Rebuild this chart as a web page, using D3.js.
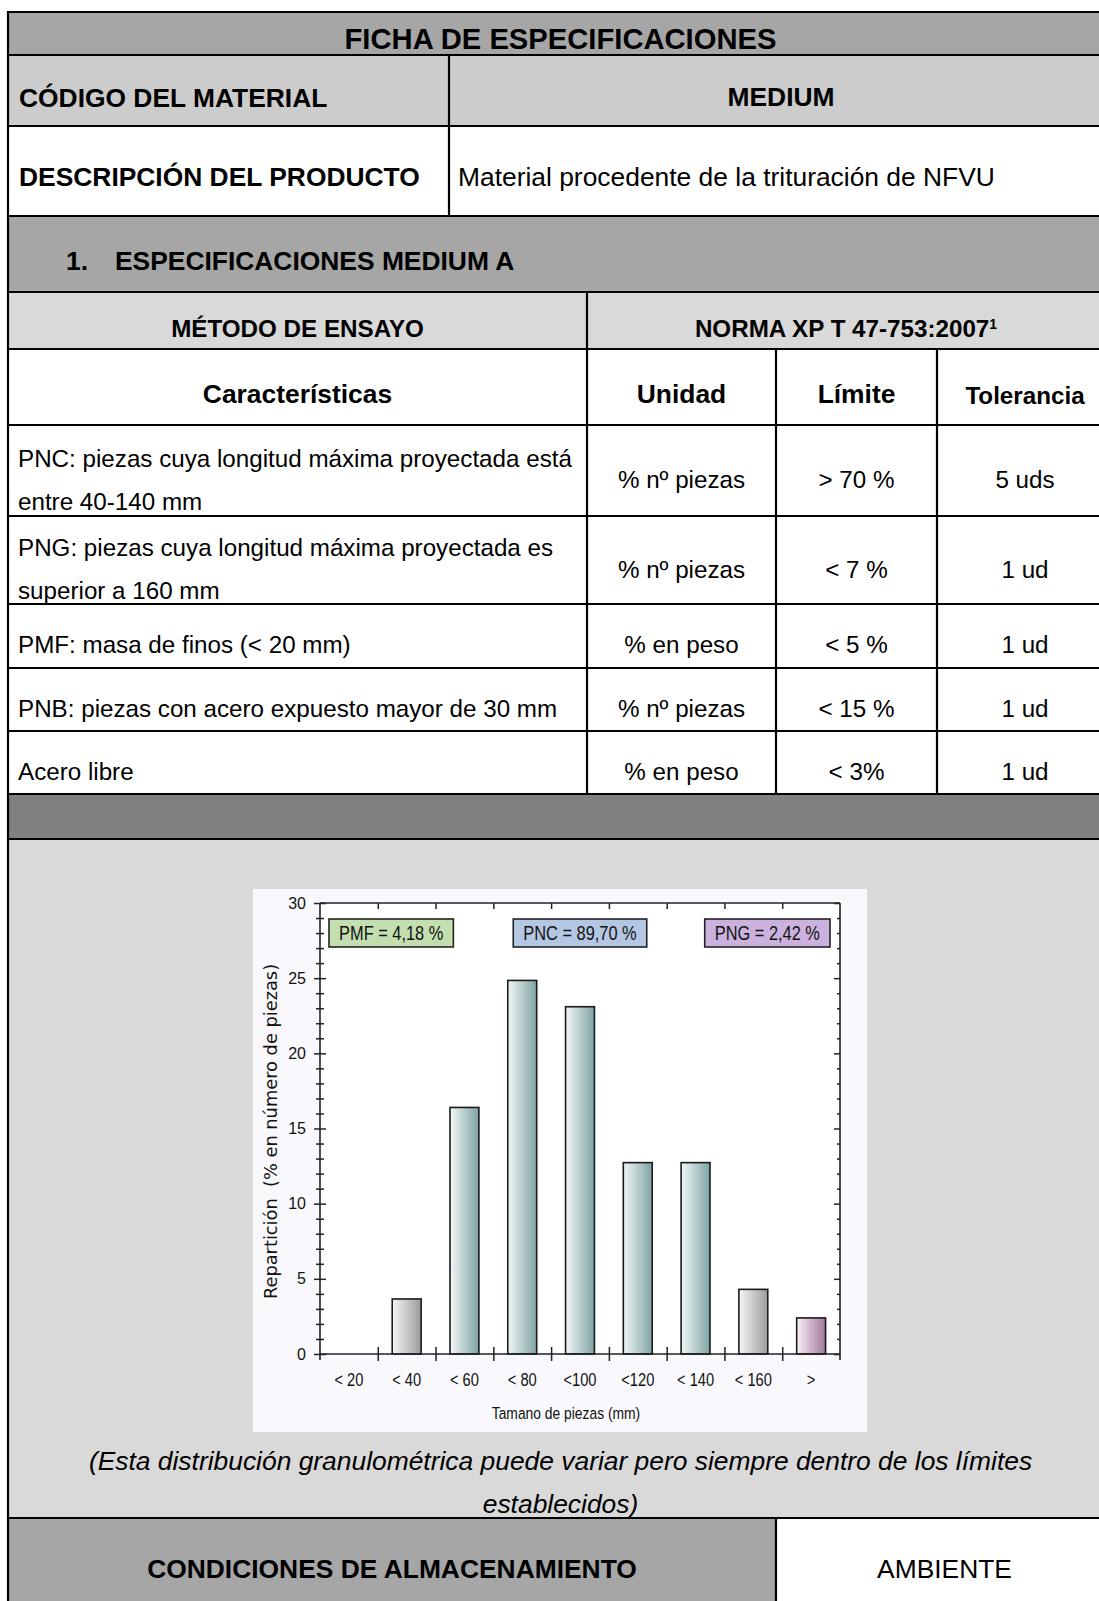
<!DOCTYPE html>
<html><head><meta charset="utf-8">
<script src="https://cdn.jsdelivr.net/npm/d3@7/dist/d3.min.js"></script>
<style>html,body{margin:0;padding:0;background:#fff;}svg{display:block;}</style>
</head><body>
<svg id="c" width="1099" height="1601"></svg>
<script>
// ---------- DATA ----------
const title = "FICHA DE ESPECIFICACIONES";
const materialLabel = "CÓDIGO DEL MATERIAL";
const materialCode = "MEDIUM";
const descLabel = "DESCRIPCIÓN DEL PRODUCTO";
const descText = "Material procedente de la trituración de NFVU";
const sectionNum = "1.";
const sectionTitle = "ESPECIFICACIONES MEDIUM A";
const methodLabel = "MÉTODO DE ENSAYO";
const normLabel = "NORMA XP T 47-753:2007";
const normNote = "1";
const specHeaders = ["Características", "Unidad", "Límite", "Tolerancia"];
const specNames = [
  ["PNC: piezas cuya longitud máxima proyectada está", "entre 40-140 mm"],
  ["PNG: piezas cuya longitud máxima proyectada es", "superior a 160 mm"],
  ["PMF: masa de finos (< 20 mm)"],
  ["PNB: piezas con acero expuesto mayor de 30 mm"],
  ["Acero libre"]
];
const specUnits = ["% nº piezas", "% nº piezas", "% en peso", "% nº piezas", "% en peso"];
const specLimits = ["> 70 %", "< 7 %", "< 5 %", "< 15 %", "< 3%"];
const specTolerances = ["5 uds", "1 ud", "1 ud", "1 ud", "1 ud"];

const sizeClasses = ["< 20", "< 40", "< 60", "< 80", "<100", "<120", "< 140", "< 160", ">"];
const distribution = [0, 3.66, 16.4, 24.85, 23.1, 12.73, 12.73, 4.3, 2.4];
const classGroup = ["other", "other", "pnc", "pnc", "pnc", "pnc", "pnc", "other", "png"];
const yTicks = [0, 5, 10, 15, 20, 25, 30];
const yMax = 30;
const badgeLabels = ["PMF = 4,18 %", "PNC = 89,70 %", "PNG = 2,42 %"];
const badgeAlign = ["left", "center", "right"];
const yAxisTitle = "Repartición  (% en número de piezas)";
const xAxisTitle = "Tamano de piezas (mm)";
const captionLines = ["(Esta distribución granulométrica puede variar pero siempre dentro de los límites", "establecidos)"];
const storageLabel = "CONDICIONES DE ALMACENAMIENTO";
const storageValue = "AMBIENTE";

// ---------- STYLE ----------
const FONT = "'Liberation Sans', Arial, Helvetica, sans-serif";
const groupColors = {
  other: ["#f6f6f6", "#9c9c9c"],
  pnc: ["#f1f7f7", "#7fa3a3"],
  png: ["#f8eef6", "#a3789c"]
};
const badgeColors = ["#c3dfb0", "#b3c7e2", "#cbb2de"];

const svg = d3.select("#c");
const defs = svg.append("defs");
Object.entries(groupColors).forEach(([k, c]) => {
  const g = defs.append("linearGradient").attr("id", "grad-" + k)
    .attr("x1", "0").attr("x2", "1").attr("y1", "0").attr("y2", "0");
  g.append("stop").attr("offset", "0").attr("stop-color", c[0]);
  g.append("stop").attr("offset", "1").attr("stop-color", c[1]);
});

// ---------- TABLE LAYOUT ----------
const L = 8, R = 1113;
const rows = [12, 55, 126, 216, 292, 349, 425, 516, 604, 668, 731, 794, 839, 1518, 1610];
const fills = ["#a6a6a6", "#cccccc", "#ffffff", "#a6a6a6", "#d9d9d9", "#ffffff", "#ffffff", "#ffffff",
  "#ffffff", "#ffffff", "#ffffff", "#808080", "#d9d9d9", null];
const bg = svg.append("g");
fills.forEach((f, i) => {
  if (f) bg.append("rect").attr("x", L).attr("y", rows[i]).attr("width", R - L).attr("height", rows[i + 1] - rows[i]).attr("fill", f);
});
bg.append("rect").attr("x", L).attr("y", rows[13]).attr("width", 776 - L).attr("height", rows[14] - rows[13]).attr("fill", "#a6a6a6");
bg.append("rect").attr("x", 776).attr("y", rows[13]).attr("width", R - 776).attr("height", rows[14] - rows[13]).attr("fill", "#ffffff");

const lines = svg.append("g").attr("stroke", "#000").attr("stroke-width", 2.2);
rows.slice(0, 14).forEach(y => lines.append("line").attr("x1", L).attr("x2", R).attr("y1", y).attr("y2", y));
const vlines = [[L, 11, 1610], [449, 55, 216], [587, 292, 794], [776, 349, 794], [937, 349, 794], [776, 1518, 1610]];
vlines.forEach(v => lines.append("line").attr("x1", v[0]).attr("x2", v[0]).attr("y1", v[1]).attr("y2", v[2]));

const T = svg.append("g").attr("font-family", FONT).attr("fill", "#000");
function txt(s, x, y, opts = {}) {
  return T.append("text").attr("x", x).attr("y", y).attr("dy", "0.36em")
    .attr("font-size", opts.size || 26.4)
    .attr("font-weight", opts.bold ? "bold" : "normal")
    .attr("font-style", opts.italic ? "italic" : "normal")
    .attr("text-anchor", opts.anchor || "start")
    .text(s);
}
txt(title, (L + R) / 2, 38, { bold: true, size: 29.2, anchor: "middle" });
txt(materialLabel, 19, 97, { bold: true });
txt(materialCode, (449 + R) / 2, 96, { bold: true, anchor: "middle" });
txt(descLabel, 19, 176, { bold: true });
txt(descText, 458, 176);
txt(sectionNum, 66, 260, { bold: true });
txt(sectionTitle, 115, 260, { bold: true });
txt(methodLabel, (L + 587) / 2, 328, { bold: true, size: 24.2, anchor: "middle" });
const norm = txt(normLabel, (587 + R) / 2 - 4, 328, { bold: true, size: 24.2, anchor: "middle" });
norm.append("tspan").attr("font-size", 14).attr("dy", "-0.55em").text(normNote);

const colCenters = [(L + 587) / 2, (587 + 776) / 2, (776 + 937) / 2, (937 + R) / 2];
specHeaders.forEach((h, i) => txt(h, colCenters[i], i === 3 ? 395 : 393, { bold: true, size: i === 3 ? 24.2 : 26.4, anchor: "middle" }));

const rowText = [[458, 501], [547, 590], [644], [708], [771]];
const rowCenter = [479, 569, 644, 708, 771];
specNames.forEach((lns, i) => {
  lns.forEach((s, j) => txt(s, 18, rowText[i][j], { size: 24.2 }));
  txt(specUnits[i], colCenters[1], rowCenter[i], { size: 24.2, anchor: "middle" });
  txt(specLimits[i], colCenters[2], rowCenter[i], { size: 24.2, anchor: "middle" });
  txt(specTolerances[i], colCenters[3], rowCenter[i], { size: 24.2, anchor: "middle" });
});

txt(captionLines[0], (L + R) / 2, 1460, { italic: true, anchor: "middle" });
txt(captionLines[1], (L + R) / 2, 1503, { italic: true, anchor: "middle" });
txt(storageLabel, (L + 776) / 2, 1568, { bold: true, anchor: "middle" });
txt(storageValue, (776 + R) / 2, 1568, { anchor: "middle" });

// ---------- CHART ----------
const panel = { x0: 253, y0: 889, x1: 867, y1: 1432 };
const plot = { left: 320, right: 840, top: 903, bottom: 1354 };
const C = svg.append("g").attr("font-family", FONT);
C.append("rect").attr("x", panel.x0).attr("y", panel.y0).attr("width", panel.x1 - panel.x0).attr("height", panel.y1 - panel.y0).attr("fill", "#f9f9fd");
C.append("rect").attr("x", plot.left).attr("y", plot.top).attr("width", plot.right - plot.left).attr("height", plot.bottom - plot.top).attr("fill", "#ffffff");

const x = d3.scaleBand().domain(sizeClasses).range([plot.left, plot.right]).padding(0);
const xi = d3.scaleLinear().domain([0, sizeClasses.length]).range([plot.left, plot.right]);
const y = d3.scaleLinear().domain([0, yMax]).range([plot.bottom, plot.top]);
const bw = x.bandwidth();
const bounds = d3.range(1, sizeClasses.length);
const minor = d3.range(0, yMax + 1).filter(v => v % 5 !== 0);

// bars
C.append("g").selectAll("rect").data(sizeClasses.map((c, i) => ({ c, v: distribution[i], g: classGroup[i] })).filter(d => d.v > 0))
  .join("rect")
  .attr("x", d => x(d.c) + bw * 0.25).attr("width", bw * 0.5)
  .attr("y", d => y(d.v)).attr("height", d => y(0) - y(d.v))
  .attr("fill", d => "url(#grad-" + d.g + ")")
  .attr("stroke", "#1a1a1a").attr("stroke-width", 1.6);

const axStroke = "#222";
function styleAxis(g) { g.select(".domain").remove(); g.selectAll("line").attr("stroke", axStroke).attr("stroke-width", 1.5); }
const frame = C.append("g").attr("stroke", axStroke).attr("stroke-width", 1.6);
frame.append("line").attr("x1", plot.left).attr("x2", plot.right).attr("y1", plot.top).attr("y2", plot.top);
frame.append("line").attr("x1", plot.left).attr("x2", plot.right).attr("y1", plot.bottom).attr("y2", plot.bottom);
frame.append("line").attr("x1", plot.left).attr("x2", plot.left).attr("y1", plot.top).attr("y2", plot.bottom + 6);
frame.append("line").attr("x1", plot.right).attr("x2", plot.right).attr("y1", plot.top).attr("y2", plot.bottom + 6);

const yl = C.append("g").attr("transform", `translate(${plot.left},0)`)
  .call(d3.axisLeft(y).tickValues(yTicks).tickSize(6).tickPadding(8).tickFormat(d3.format("d")));
styleAxis(yl);
yl.selectAll("text").attr("font-size", 16).attr("fill", "#111").attr("font-family", FONT);
styleAxis(C.append("g").attr("transform", `translate(${plot.left},0)`).call(d3.axisRight(y).tickValues(yTicks).tickSize(6).tickFormat("")));
styleAxis(C.append("g").attr("transform", `translate(${plot.left},0)`).call(d3.axisLeft(y).tickValues(minor).tickSize(4).tickFormat("")));
styleAxis(C.append("g").attr("transform", `translate(${plot.left},0)`).call(d3.axisRight(y).tickValues(minor).tickSize(4).tickFormat("")));
styleAxis(C.append("g").attr("transform", `translate(${plot.right},0)`).call(d3.axisLeft(y).tickValues(yTicks).tickSize(6).tickFormat("")));
styleAxis(C.append("g").attr("transform", `translate(${plot.right},0)`).call(d3.axisLeft(y).tickValues(minor).tickSize(3).tickFormat("")));
styleAxis(C.append("g").attr("transform", `translate(0,${plot.top})`).call(d3.axisBottom(xi).tickValues(bounds).tickSize(6).tickFormat("")));
styleAxis(C.append("g").attr("transform", `translate(0,${plot.bottom})`).call(d3.axisBottom(xi).tickValues(bounds).tickSize(7).tickFormat("")));
styleAxis(C.append("g").attr("transform", `translate(0,${plot.bottom})`).call(d3.axisTop(xi).tickValues(bounds).tickSize(7).tickFormat("")));
const xb = C.append("g").attr("transform", `translate(0,${plot.bottom})`)
  .call(d3.axisBottom(x).tickSize(0).tickPadding(20));
xb.select(".domain").remove();
xb.selectAll("text").attr("font-size", 17.5).attr("fill", "#111").attr("font-family", FONT).attr("transform", "scale(0.84,1)");

C.append("text").attr("transform", `translate(271,${(plot.top + plot.bottom) / 2 + 3}) rotate(-90)`)
  .attr("text-anchor", "middle").attr("dy", "0.36em").attr("font-family", "'DejaVu Sans', Verdana, sans-serif")
  .attr("font-size", 17.8).attr("fill", "#111").attr("xml:space", "preserve").style("white-space", "pre").text(yAxisTitle);
C.append("text").attr("transform", `translate(566,1413) scale(0.84,1)`).attr("text-anchor", "middle").attr("dy", "0.36em")
  .attr("font-size", 16.5).attr("fill", "#111").text(xAxisTitle);

const badgeG = C.append("g");
badgeLabels.forEach((s, i) => {
  const g = badgeG.append("g");
  const t = g.append("text").attr("font-size", 20).attr("fill", "#111").attr("dy", "0.36em").text(s);
  const w = t.node().getComputedTextLength() * 0.82;
  const bwid = w + 20;
  let bx;
  if (badgeAlign[i] === "left") bx = xi(0) + 9;
  else if (badgeAlign[i] === "center") bx = (xi(0) + xi(sizeClasses.length)) / 2 - bwid / 2;
  else bx = xi(sizeClasses.length) - 10 - bwid;
  const by = y(yMax) + 16;
  g.insert("rect", "text").attr("x", bx).attr("y", by).attr("width", bwid).attr("height", 28)
    .attr("fill", badgeColors[i]).attr("stroke", "#222").attr("stroke-width", 1.6);
  t.attr("text-anchor", "middle").attr("transform", `translate(${bx + bwid / 2},${by + 14}) scale(0.82,1)`);
});
</script>
</body></html>
